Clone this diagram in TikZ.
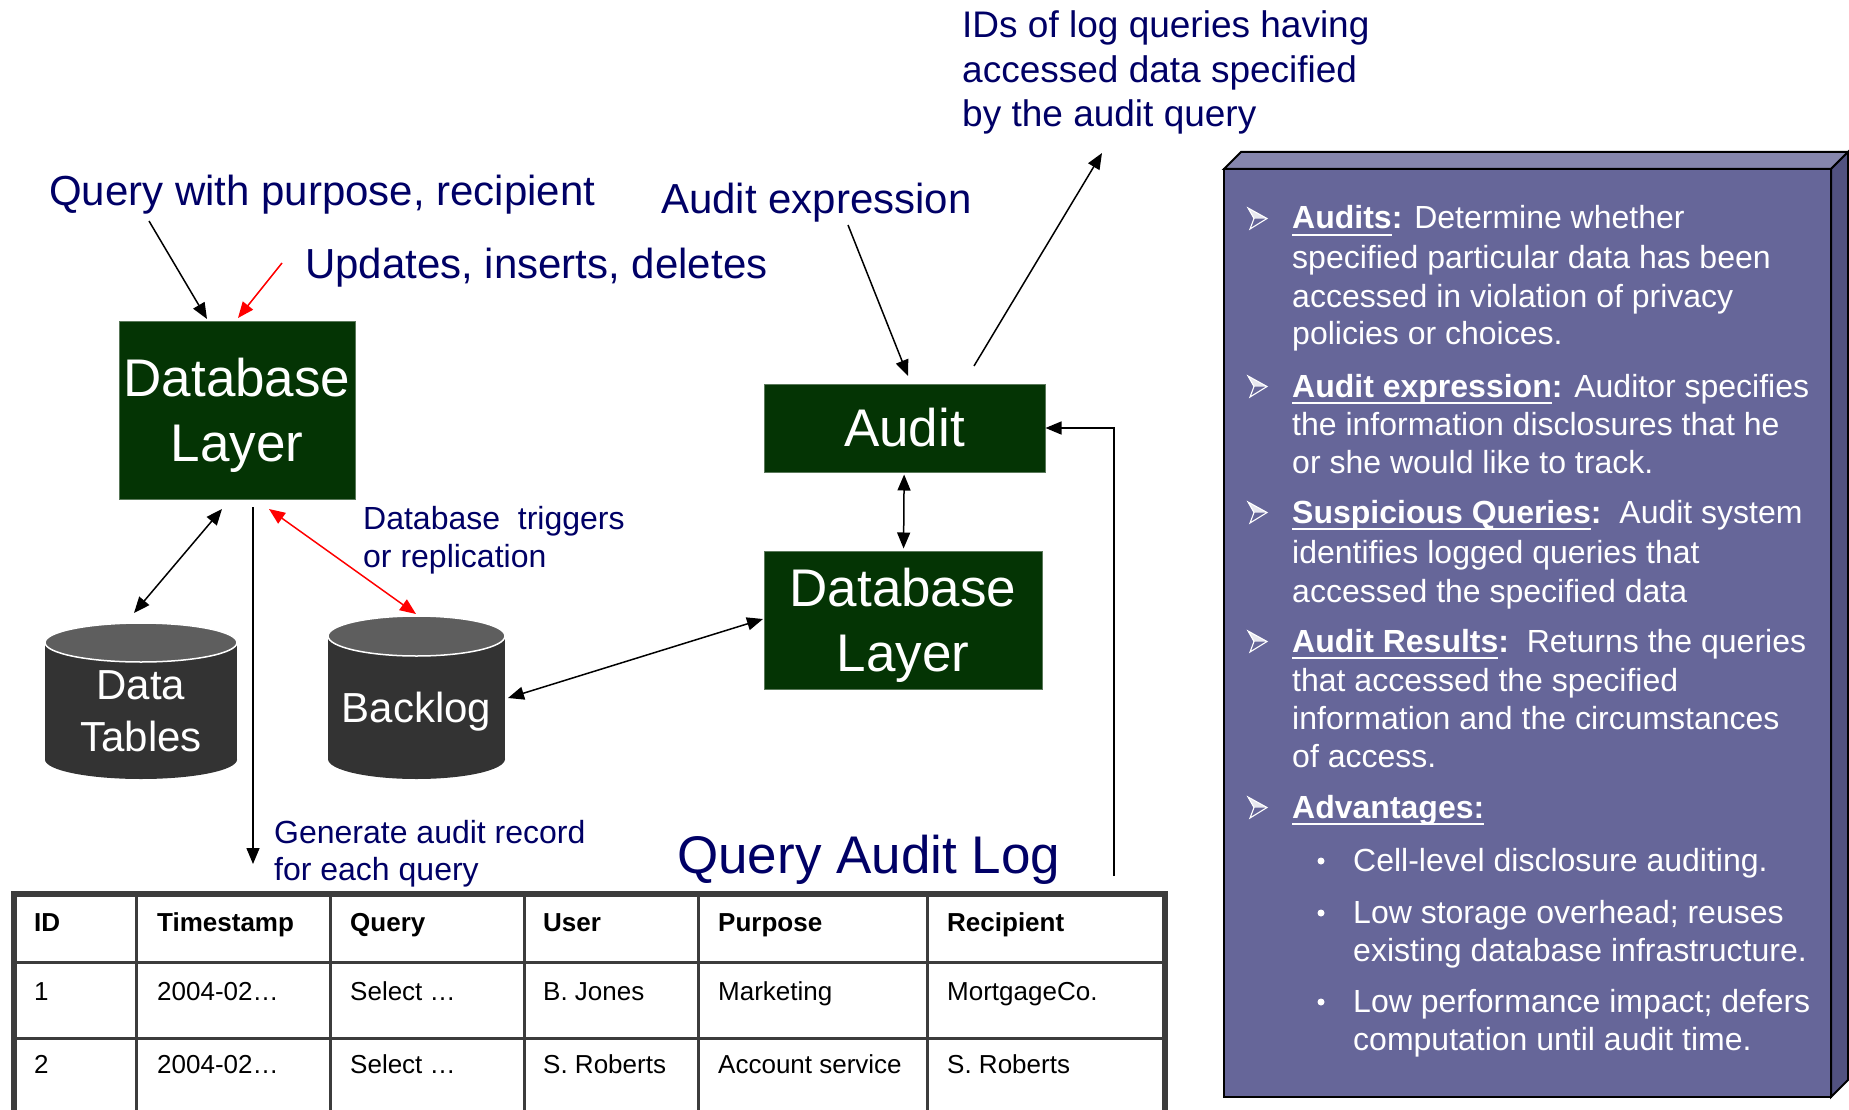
\documentclass[tikz,border=0pt]{standalone}
\usepackage{fontspec}
\setmainfont{Liberation Sans}
\usetikzlibrary{arrows.meta}
\definecolor{navy}{RGB}{0,0,102}
\definecolor{boxgreen}{RGB}{4,52,4}
\definecolor{boxedge}{RGB}{90,120,90}
\definecolor{cylbody}{RGB}{51,51,51}
\definecolor{cyltop}{RGB}{94,94,94}
\definecolor{tabline}{RGB}{60,60,60}
\definecolor{panfront}{RGB}{102,102,153}
\definecolor{pantop}{RGB}{134,134,173}
\definecolor{panside}{RGB}{82,82,128}
\newcommand\myul[1]{\setbox0\hbox{#1}\rlap{\rule[-7pt]{\wd0}{2.5pt}}\box0}
\newcommand\panarrow[1]{%
  \begin{scope}[shift={(1248,#1)}]
    \fill[white!85!panfront] (19,-10.5) -- (0,-21) -- (6,-10.5) -- cycle;
    \draw[white, line width=1.1pt, line join=miter] (19,-10.5) -- (0,-21) -- (6,-10.5) -- (2,0) -- cycle;
  \end{scope}}
\begin{document}
\begin{tikzpicture}[x=1pt,y=-1pt,
  arr/.style={line width=1.5pt, -{Triangle[length=16pt,width=13pt]}},
  darr/.style={line width=1.5pt, {Triangle[length=16pt,width=13pt]}-{Triangle[length=16pt,width=13pt]}},
  gbox/.style={fill=boxgreen, draw=boxedge, line width=1pt, text=white, align=center, inner sep=0pt,
               font=\fontsize{53}{65}\selectfont},
  lbl/.style={anchor=base west, text=navy, inner sep=0pt},
  cyltext/.style={text=white, align=center, inner sep=0pt, font=\fontsize{42}{52}\selectfont},
  cell/.style={anchor=base west, inner sep=0pt, text=black, font=\fontsize{26}{30}\selectfont},
  pan/.style={anchor=base west, inner sep=0pt, text=white, font=\fontsize{32}{38}\selectfont},
  tabin/.style={draw=tabline, line width=3pt},
  tabout/.style={draw=tabline, line width=6pt, line join=miter},
]
\useasboundingbox (0,0) rectangle (1849,1110);
\fill[white] (0,0) rectangle (1849,1110);

% ---------- labels ----------
\node[lbl, font=\fontsize{42}{50}\selectfont] (lq) at (49,205) {Query with purpose, recipient};
\node[lbl, font=\fontsize{42}{50}\selectfont] (lu) at (305,278) {Updates, inserts, deletes};
\node[lbl, font=\fontsize{42}{50}\selectfont] (lae) at (661,213) {Audit expression};
\node[lbl, font=\fontsize{37}{45}\selectfont] (lid1) at (962,38) {IDs of log queries having};
\node[lbl, font=\fontsize{37}{45}\selectfont] (lid2) at (962,82.5) {accessed data specified};
\node[lbl, font=\fontsize{37}{45}\selectfont] (lid3) at (962,127) {by the audit query};
\node[lbl, font=\fontsize{32}{38}\selectfont] (ltr1) at (363,529) {Database\ \ triggers};
\node[lbl, font=\fontsize{32}{38}\selectfont] (ltr2) at (363,567) {or replication};
\node[lbl, font=\fontsize{32}{38}\selectfont] (lg1) at (274,843) {Generate audit record};
\node[lbl, font=\fontsize{32}{38}\selectfont] (lg2) at (274,880) {for each query};
\node[lbl, font=\fontsize{53}{60}\selectfont] (lqal) at (677,873) {Query Audit Log};

% ---------- boxes ----------
\node[gbox, minimum width=236, minimum height=178] (dbl) at (237,410) {Database\\\smash{Layer}};
\node[gbox, minimum width=281, minimum height=88] (audit) at (904.5,428) {Audit};
\node[gbox, minimum width=278, minimum height=138] (rdb) at (903,620) {Database\\\smash{Layer}};

% ---------- cylinders ----------
\fill[cylbody] (45,642.5) rectangle (237,759.5);
\fill[cylbody] (141,759.5) ellipse [x radius=96, y radius=19.5];
\filldraw[fill=cyltop, draw=white, line width=1.5pt] (141,642.5) ellipse [x radius=96, y radius=19.5];
\node[cyltext] (dt) at (141,711) {Data\\\smash{Tables}};

\fill[cylbody] (328,636) rectangle (505,759);
\fill[cylbody] (416.5,759) ellipse [x radius=88.5, y radius=20];
\filldraw[fill=cyltop, draw=white, line width=1.5pt] (416.5,636) ellipse [x radius=88.5, y radius=20];
\node[cyltext, anchor=base] (bl) at (416.5,722) {Backlog};

% ---------- connector end points ----------
\coordinate (qsrc) at (149,221);  \coordinate (qtip) at (207,319);
\coordinate (usrc) at (282,263);  \coordinate (utip) at (238,318);
\coordinate (dtA) at (134,613);   \coordinate (dlA) at (222,509);
\coordinate (dlB) at (253,507);   \coordinate (gtip) at (253,864);
\coordinate (dlC) at (269,509);   \coordinate (blA) at (416,614);
\coordinate (blB) at (508,698);   \coordinate (rdA) at (763,619);
\coordinate (fb) at (1114,876);
\coordinate (aesrc) at (848,225); \coordinate (aetip) at (908,376);
\coordinate (idsrc) at (974,366); \coordinate (idtip) at (1102,153);

% ---------- connectors ----------
\draw[arr] (qsrc) -- (qtip);
\draw[arr, red] (usrc) -- (utip);
\draw[darr] (dtA) -- (dlA);
\draw[arr] (dlB) -- (gtip);
\draw[darr, red] (dlC) -- (blA);
\draw[darr] (blB) -- (rdA);
\draw[darr, shorten <=2pt, shorten >=2pt] (audit) -- (rdb);
\draw[arr] (fb) |- (audit.east);
\draw[arr] (aesrc) -- (aetip);
\draw[arr] (idsrc) -- (idtip);

% ---------- table ----------
\draw[tabin] (14,962) -- (1165,962);
\draw[tabin] (14,1038) -- (1165,1038);
\foreach \xx in {136,330,524,698,927} \draw[tabin] (\xx,893) -- (\xx,1110);
\draw[tabout] (14,1112) -- (14,894) -- (1165,894) -- (1165,1112);

\node[cell] (h1) at (34,931) {\textbf{ID}};
\node[cell] (h2) at (157,931) {\textbf{Timestamp}};
\node[cell] (h3) at (350,931) {\textbf{Query}};
\node[cell] (h4) at (543,931) {\textbf{User}};
\node[cell] (h5) at (718,931) {\textbf{Purpose}};
\node[cell] (h6) at (947,931) {\textbf{Recipient}};
\node[cell] (a1) at (34,1000) {1};
\node[cell] (a2) at (157,1000) {2004-02…};
\node[cell] (a3) at (350,1000) {Select …};
\node[cell] (a4) at (543,1000) {B. Jones};
\node[cell] (a5) at (718,1000) {Marketing};
\node[cell] (a6) at (947,1000) {MortgageCo.};
\node[cell] (b1) at (34,1073) {2};
\node[cell] (b2) at (157,1073) {2004-02…};
\node[cell] (b3) at (350,1073) {Select …};
\node[cell] (b4) at (543,1073) {S. Roberts};
\node[cell] (b5) at (718,1073) {Account service};
\node[cell] (b6) at (947,1073) {S. Roberts};

% ---------- panel ----------
\filldraw[fill=pantop, draw=black, line width=2pt, line join=miter] (1224,169) -- (1241,152) -- (1848,152) -- (1831,169) -- cycle;
\filldraw[fill=panside, draw=black, line width=2pt, line join=miter] (1831,169) -- (1848,152) -- (1848,1080) -- (1831,1097) -- cycle;
\filldraw[fill=panfront, draw=black, line width=2pt] (1224,169) rectangle (1831,1097);

\panarrow{229} \panarrow{397} \panarrow{523} \panarrow{652} \panarrow{818}
\node[pan] (p1a) at (1292,229) {\myul{\textbf{Audits}}\textbf{:} Determine whether};
\node[pan] (p1b) at (1292,268) {specified particular data has been};
\node[pan] (p1c) at (1292,307) {accessed in violation of privacy};
\node[pan] (p1d) at (1292,344) {policies or choices.};
\node[pan] (p2a) at (1292,397) {\myul{\textbf{Audit expression}}\textbf{:} Auditor specifies};
\node[pan] (p2b) at (1292,435) {the information disclosures that he};
\node[pan] (p2c) at (1292,473) {or she would like to track.};
\node[pan] (p3a) at (1292,523) {\myul{\textbf{Suspicious Queries}}\textbf{:}\ \ Audit system};
\node[pan] (p3b) at (1292,563) {identifies logged queries that};
\node[pan] (p3c) at (1292,602) {accessed the specified data};
\node[pan] (p4a) at (1292,652) {\myul{\textbf{Audit Results}}\textbf{:}\ \ Returns the queries};
\node[pan] (p4b) at (1292,691) {that accessed the specified};
\node[pan] (p4c) at (1292,729) {information and the circumstances};
\node[pan] (p4d) at (1292,767) {of access.};
\node[pan] (p5a) at (1292,818) {\myul{\textbf{Advantages:}}};
\fill[white] (1321,861) circle (3.5);
\fill[white] (1321,913) circle (3.5);
\fill[white] (1321,1002) circle (3.5);
\node[pan] (s1) at (1353,871) {Cell-level disclosure auditing.};
\node[pan] (s2a) at (1353,923) {Low storage overhead; reuses};
\node[pan] (s2b) at (1353,961) {existing database infrastructure.};
\node[pan] (s3a) at (1353,1012) {Low performance impact; defers};
\node[pan] (s3b) at (1353,1050) {computation until audit time.};
\end{tikzpicture}
\end{document}
